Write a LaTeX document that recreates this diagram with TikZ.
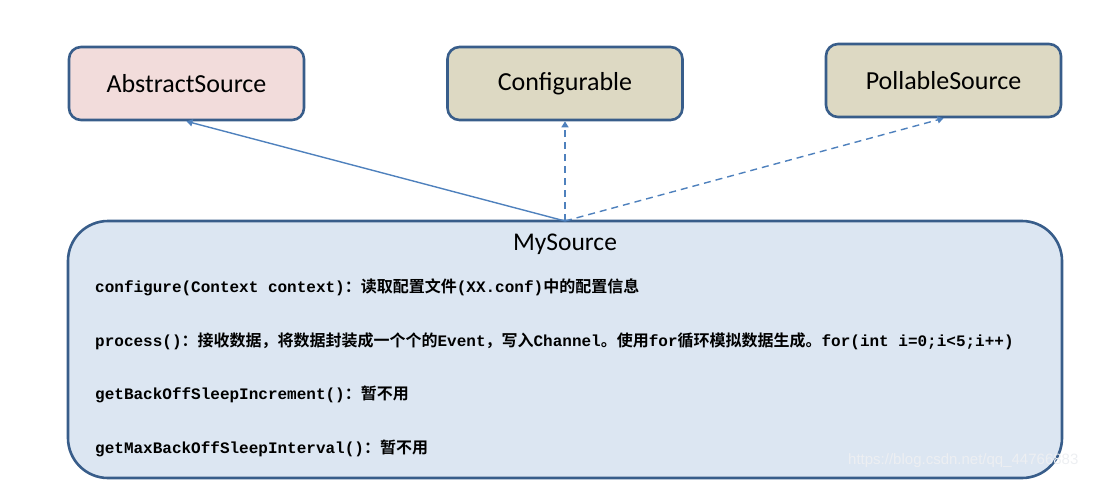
\documentclass[tikz,border=0pt]{standalone}
\usepackage{fontspec}
\setmainfont{Carlito}
\newfontfamily\cjk{Noto Sans CJK SC}[BoldFont={Noto Sans CJK SC Bold}]
\newfontfamily\monof{Liberation Mono}
\newfontfamily\wmfont{Liberation Sans}
\usetikzlibrary{arrows.meta}
\definecolor{bordc}{HTML}{385D8A}
\definecolor{arrc}{HTML}{4F81BD}
\definecolor{pinkf}{HTML}{F2DCDB}
\definecolor{tanf}{HTML}{DDD9C3}
\definecolor{bluef}{HTML}{DCE6F2}
\definecolor{wmc}{HTML}{EDEFF2}
\newcommand{\cj}[1]{{\cjk\bfseries #1}}
\tikzset{
  topbox/.style={draw=bordc, line width=2.6pt, rounded corners=12pt, minimum width=235pt, minimum height=73pt, font=\fontsize{26}{30}\selectfont, text=black, inner sep=0pt},
  bigbox/.style={draw=bordc, line width=2.6pt, rounded corners=40pt, fill=bluef},
  inh/.style={draw=arrc, line width=1.4pt, -{Triangle[width=7pt,length=6pt]}},
  impl/.style={inh, dash pattern=on 7pt off 5pt},
  line/.style={anchor=west, font=\monof\bfseries\fontsize{16}{19}\selectfont, inner sep=0pt}
}
\begin{document}
\begin{tikzpicture}[x=1pt,y=-1pt]
\useasboundingbox (0,0) rectangle (1103,480);
\node[topbox, fill=pinkf] (abs) at (186.5,83.5) {AbstractSource};
\node[topbox, fill=tanf] (conf) at (565,83.5) {Configurable};
\node[topbox, fill=tanf] (poll) at (943.5,80.5) {PollableSource};
\draw[bigbox] (68,221) rectangle (1062,478);
\coordinate (mytop) at (565,221);
\node[font=\fontsize{25.5}{30}\selectfont, inner sep=0pt] (title) at (565,244) {MySource};
\node[line] (l1) at (95,287) {configure(Context context)\cj{：读取配置文件}(XX.conf)\cj{中的配置信息}};
\node[line] (l2) at (95,341) {process()\cj{：接收数据，将数据封装成一个个的}Event\cj{，写入}Channel\cj{。使用}for\cj{循环模拟数据生成。}for(int i=0;i<5;i++)};
\node[line] (l3) at (95,394) {getBackOffSleepIncrement()\cj{：暂不用}};
\node[line] (l4) at (95,448) {getMaxBackOffSleepInterval()\cj{：暂不用}};
\draw[inh] (mytop) -- (abs.south);
\draw[impl] (mytop) -- (conf.south);
\draw[impl] (mytop) -- (poll.south);
\node[anchor=west, font=\wmfont\fontsize{15}{18}\selectfont, text=wmc, inner sep=0pt] (wm) at (848,461) {https://blog.csdn.net/qq\_44766883};
\end{tikzpicture}
\end{document}
